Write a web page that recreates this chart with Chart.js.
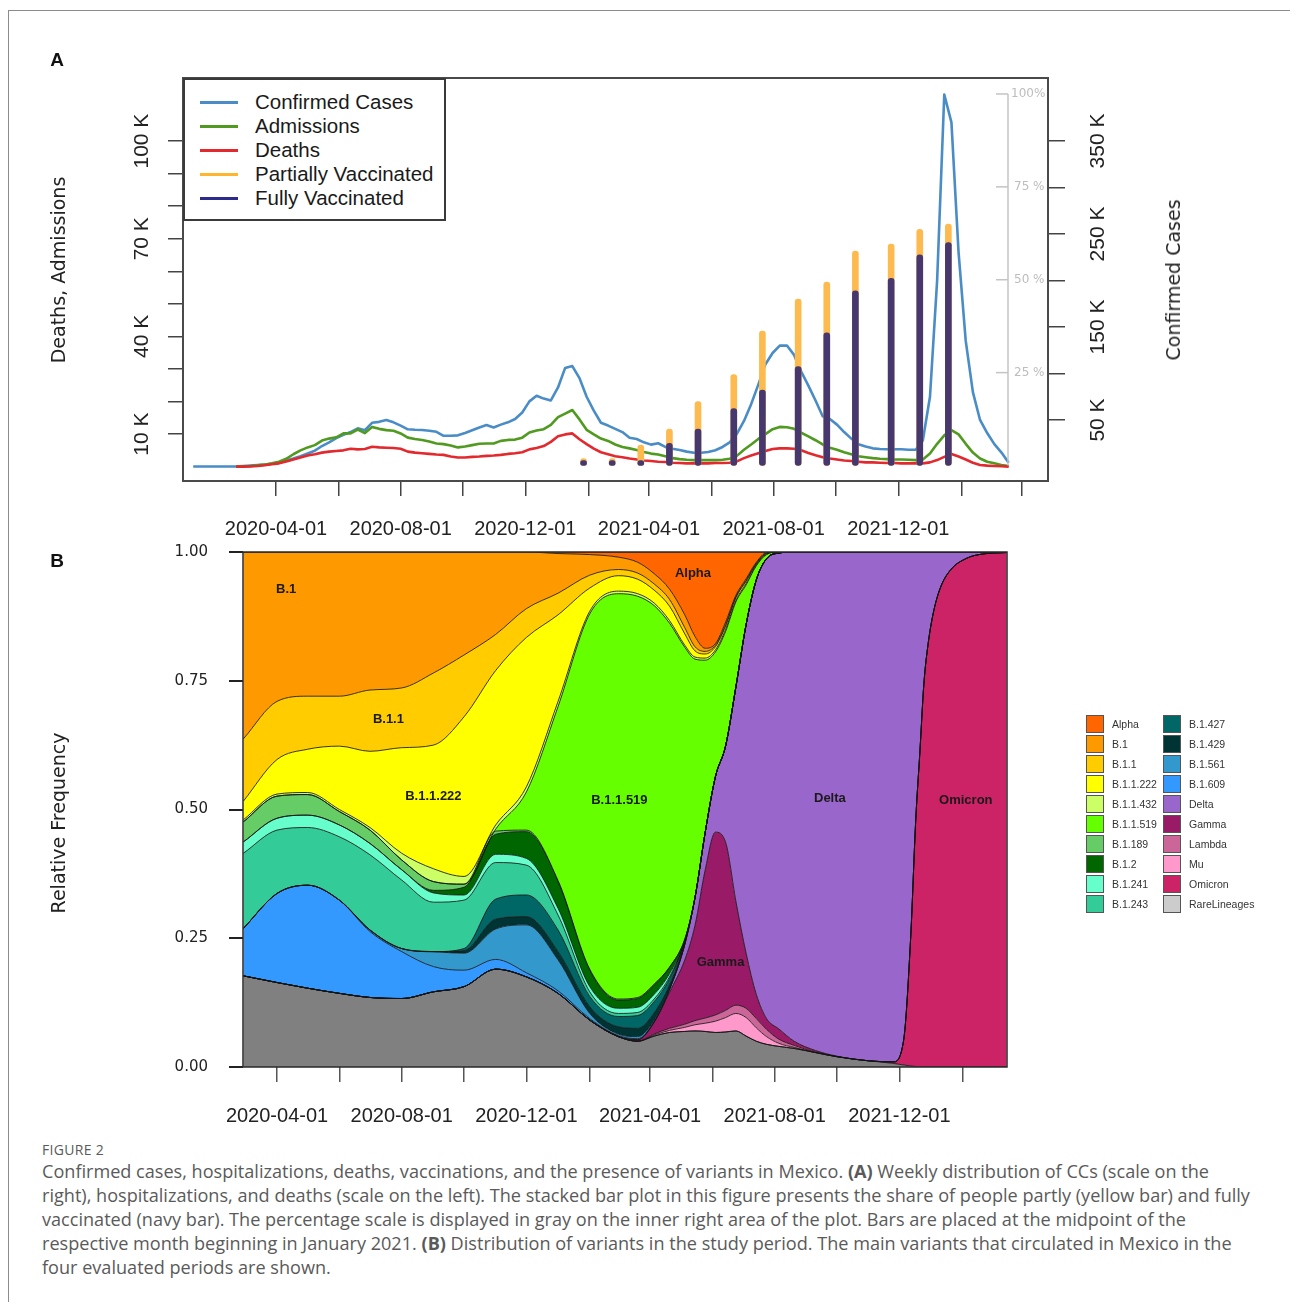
<!DOCTYPE html>
<html>
<head>
<meta charset="utf-8">
<title>Figure 2</title>
<script src="https://cdn.jsdelivr.net/npm/chart.js@4.4.1/dist/chart.umd.min.js"></script>
<style>
  html, body { margin: 0; padding: 0; background: #fff; }
  body { position: relative; width: 1290px; height: 1302px; overflow: hidden; font-family: "Liberation Sans", Arial, sans-serif; }
  .frame { position: absolute; left: 8px; top: 10px; width: 1300px; height: 1310px; border-left: 1px solid #8c8c8c; border-top: 1px solid #8c8c8c; }
  canvas { position: absolute; left: 0; }
  #chartA { top: 40px; }
  #chartB { top: 540px; }
  .tag { position: absolute; font: bold 19px "Liberation Sans", Arial, sans-serif; color: #111; transform: translate(-50%, -50%); }
  .vtitle { position: absolute; font: 19px "DejaVu Sans", sans-serif; color: #222; white-space: nowrap; transform: translate(-50%, -50%) rotate(-90deg); }
  #legendA { position: absolute; left: 183px; top: 78px; width: 259px; height: 139px; border: 2px solid #3a3a3a; background: #fff; }
  #legendA .row { position: absolute; left: 0; height: 24px; width: 257px; }
  #legendA .sw { position: absolute; left: 15px; top: 11px; width: 38px; height: 3px; }
  #legendA .tx { position: absolute; left: 70px; top: 0; font: 20.5px/24px "Liberation Sans", Arial, sans-serif; color: #1a1a1a; white-space: nowrap; }
  #legendB { position: absolute; left: 1086px; top: 715px; }
  #legendB .item { position: absolute; height: 18px; }
  #legendB .sw { position: absolute; left: 0; top: 0; width: 18px; height: 18px; box-sizing: border-box; border: 1px solid #555; }
  #legendB .tx { position: absolute; left: 26px; top: 0; font: 10.5px/18px "Liberation Sans", Arial, sans-serif; color: #333; white-space: nowrap; }
  #caption { position: absolute; left: 42px; top: 1141px; color: #5a5a5a; }
  #caption .fig { font: 14px/18px "Open Sans", sans-serif; letter-spacing: 0.3px; }
  #caption .cap { font: 18.1px/24px "Open Sans", sans-serif; white-space: nowrap; }
</style>
</head>
<body>
<div class="frame"></div>
<canvas id="chartA" width="1290" height="520"></canvas>
<canvas id="chartB" width="1290" height="600"></canvas>
<div class="tag" style="left:57px; top:60px;">A</div>
<div class="tag" style="left:57px; top:561px;">B</div>
<div class="vtitle" style="left:58px; top:270px;">Deaths, Admissions</div>
<div class="vtitle" style="left:1173px; top:280px;">Confirmed Cases</div>
<div class="vtitle" style="left:58px; top:823px;">Relative Frequency</div>
<div id="legendA"></div>
<div id="legendB"></div>
<div id="caption">
  <div class="fig">FIGURE 2</div>
  <div class="cap">Confirmed cases, hospitalizations, deaths, vaccinations, and the presence of variants in Mexico. <b>(A)</b> Weekly distribution of CCs (scale on the<br>right), hospitalizations, and deaths (scale on the left). The stacked bar plot in this figure presents the share of people partly (yellow bar) and fully<br>vaccinated (navy bar). The percentage scale is displayed in gray on the inner right area of the plot. Bars are placed at the midpoint of the<br>respective month beginning in January 2021. <b>(B)</b> Distribution of variants in the study period. The main variants that circulated in Mexico in the<br>four evaluated periods are shown.</div>
</div>

<script>
const day = s => (Date.parse(s) - Date.parse('2020-01-01')) / 864e5;

// ---------- panel A : weekly counts (thousands) ----------
const firstWeek = '2020-01-11';

const casesK = [0,0,0,0,0,0,0,
  0.5,1,1.5,2,3,4.5,6.5,8.5,
  11,14,17,22,26, 30.5,34,37,41,39, 47,48,50,47.5,44,
  40,39.5,39.2,38.5,37.3, 33,33,33.5,36,39, 42,44.5,42,45,47.5,
  51,58,70,76,73, 71,85,106,108,95, 75,60,47,44,40.5,
  37,31,29.5,26,23.5, 25,21,19,17.7,16, 14.8,14.8,15.5,17.5,21,
  26,35,49,67,88, 110,122,130,130,120, 102,87,71,54,51,
  45,37,30,24,21.5, 19.5,18.8,18.5,18.5,18.5, 18,18,28,75,200,
  400,370,230,135,80, 50,36,24,15,4];

const admissionsK = [null,null,null,null,null,null,0,
  0.1,0.2,0.4,0.6,1.0,1.5,2.4,3.8,
  5.0,5.9,6.6,8.0,8.6, 9.0,10.2,10.2,11.4,10.3, 12.2,11.6,11.2,11.0,10.2,
  8.9,8.5,8.2,7.7,7.1, 6.9,6.5,5.9,6.2,6.6, 7.0,7.1,7.1,7.9,8.2,
  8.3,8.9,10.5,11.1,11.5, 12.8,15.2,16.3,17.4,14.5, 11.3,9.9,8.6,7.9,6.8,
  6.0,5.6,5.1,4.5,4.0, 3.7,3.2,2.6,2.3,2.1, 2.0,2.0,2.0,2.0,2.1,
  2.4,3.3,5.2,6.8,8.5, 10.0,11.5,12.2,12.1,11.6, 10.4,9.3,8.1,6.8,5.8,
  5.2,4.4,3.8,3.2,2.9, 2.6,2.4,2.3,2.2,2.2, 2.1,2.0,2.2,4.0,7.0,
  9.6,11.2,9.9,7.0,4.3, 2.5,1.5,1.0,0.5,0.2];

const deathsK = [null,null,null,null,null,null,0,
  0,0.05,0.2,0.4,0.7,1.0,1.6,2.2,
  2.8,3.4,3.8,4.3,4.6, 4.8,5.0,5.5,5.3,5.4, 6.1,5.9,5.8,5.7,5.5,
  4.6,4.3,4.1,3.9,3.7, 3.6,3.1,2.8,2.8,3.0, 3.1,3.3,3.4,3.6,3.9,
  4.1,4.4,5.3,5.7,6.3, 7.6,9.3,9.9,10.2,8.4, 6.9,5.5,4.4,3.8,3.2,
  2.9,2.5,2.2,1.9,1.7, 1.5,1.4,1.2,1.1,1.0, 1.0,1.0,1.0,1.1,1.1,
  1.2,1.6,2.6,3.4,4.1, 4.8,5.4,5.6,5.6,5.5, 5.0,4.2,3.5,2.9,2.5,
  2.2,1.9,1.7,1.5,1.3, 1.3,1.2,1.1,1.1,1.0, 1.0,1.0,1.0,1.3,2.0,
  3.0,3.9,3.1,2.2,1.2, 0.5,0.3,0.2,0.1,0];

const vaxDates = ['2021-01-27','2021-02-24','2021-03-24','2021-04-21','2021-05-19','2021-06-23','2021-07-21',
  '2021-08-25','2021-09-22','2021-10-20','2021-11-24','2021-12-22','2022-01-19'];
const partialPct = [1.0, 1.8, 5.5, 9.8, 17.2, 24.5, 36.2, 44.8, 49.4, 57.7, 59.6, 63.6, 65.0];
const fullPct    = [0.6, 0.7, 1.0, 6.0, 9.8, 15.3, 20.3, 26.6, 35.7, 47.0, 50.4, 56.7, 60.0];

const seriesNames = ['Confirmed Cases', 'Admissions', 'Deaths', 'Partially Vaccinated', 'Fully Vaccinated'];
const lineColors = ['#4a8cc6', '#4f9a1f', '#e1292e'];
const legendColorsA = ['#4a8cc6', '#4f9a1f', '#e1292e', '#ffb52e', '#2c2a8c'];
const barColors = ['#fdbb4f', '#47376f'];

const leftTicksK = [10,20,30,40,50,60,70,80,90,100];
const leftLabelsK = [10,40,70,100];
const rightTicksK = [50,100,150,200,250,300,350];
const rightLabelsK = [50,150,250,350];
const pctTicks = [25, 50, 75, 100];
const pctLabels = ['25 %', '50 %', '75 %', '100%'];

const xTickDates = ['2020-04-01','2020-06-01','2020-08-01','2020-10-01','2020-12-01','2021-02-01','2021-04-01',
  '2021-06-01','2021-08-01','2021-10-01','2021-12-01','2022-02-01','2022-04-01'];
const xLabelDates = ['2020-04-01','2020-08-01','2020-12-01','2021-04-01','2021-08-01','2021-12-01'];

// ---------- panel B : relative frequency of variants ----------
const variantDates = ['2020-02-28','2020-04-01','2020-05-01','2020-06-01','2020-07-01','2020-08-01','2020-09-01',
  '2020-10-01','2020-11-01','2020-12-01','2021-01-01','2021-02-01','2021-03-01','2021-03-20','2021-04-05',
  '2021-04-20','2021-05-05','2021-05-15','2021-05-25','2021-06-04','2021-06-14','2021-06-24','2021-07-04',
  '2021-07-14','2021-07-24','2021-08-05','2021-08-20','2021-09-10','2021-10-01','2021-11-01','2021-11-25',
  '2021-12-05','2021-12-12','2021-12-17','2021-12-21','2021-12-25','2021-12-29','2022-01-03','2022-01-10',
  '2022-01-20','2022-02-05','2022-02-20','2022-03-16'];

const rareLineages = [.177,.164,.153,.143,.135,.133,.146,.156,.19,.175,.143,.091,.059,.05,.06,.067,.069,.07,.069,.067,
  .068,.07,.06,.05,.044,.04,.036,.028,.02,.012,.007,.004,.002,.001,0,0,0,0,0,0,0,0,0];
const omicron = [0,0,0,0,0,0,0,0,0,0,0,0,0,0,0,0,0,0,0,0,0,0,0,0,0,0,0,0,0,0,
  .003,.046,.248,.479,.61,.745,.82,.88,.93,.965,.988,.996,.999];
const mu = [0,0,0,0,0,0,0,0,0,0,0,0,0,0,.002,.004,.008,.012,.016,.022,.028,.034,.036,.026,.015,.006,.002,
  0,0,0,0,0,0,0,0,0,0,0,0,0,0,0,0];
const lambda = [0,0,0,0,0,0,0,0,0,0,0,0,0,0,.002,.004,.006,.008,.01,.012,.014,.016,.018,.018,.014,.008,.004,.001,
  0,0,0,0,0,0,0,0,0,0,0,0,0,0,0];
const gamma = [0,0,0,0,0,0,0,0,0,0,0,0,0,.003,.023,.07,.125,.185,.288,.355,.326,.202,.107,.047,.021,.02,.008,.003,.001,
  0,0,0,0,0,0,0,0,0,0,0,0,0,0];
const delta = [0,0,0,0,0,0,0,0,0,0,0,0,0,0,0,.005,.03,.054,.073,.108,.188,.416,.638,.805,.893,.924,.95,.968,.979,.988,
  .99,.95,.75,.52,.39,.255,.18,.12,.07,.035,.012,.004,.001];
const b1609 = [.092,.173,.2,.181,.128,.091,.049,.032,.019,.008,.005,.003,.002,.002,.001,
  0,0,0,0,0,0,0,0,0,0,0,0,0,0,0,0,0,0,0,0,0,0,0,0,0,0,0,0];
const b1561 = [0,0,0,0,.003,.006,.029,.033,.059,.093,.06,.01,.003,.004,.003,.001,
  0,0,0,0,0,0,0,0,0,0,0,0,0,0,0,0,0,0,0,0,0,0,0,0,0,0,0];
const b1429 = [0,0,0,0,0,0,0,.005,.019,.016,.016,.013,.014,.016,.014,.008,.003,
  0,0,0,0,0,0,0,0,0,0,0,0,0,0,0,0,0,0,0,0,0,0,0,0,0,0];
const b1427 = [0,0,0,0,0,0,0,.004,.039,.042,.042,.02,.02,.025,.022,.012,.004,
  0,0,0,0,0,0,0,0,0,0,0,0,0,0,0,0,0,0,0,0,0,0,0,0,0,0];
const b1243 = [.146,.123,.112,.123,.146,.133,.096,.094,.071,.058,.029,.009,.006,.006,.005,.004,
  0,0,0,0,0,0,0,0,0,0,0,0,0,0,0,0,0,0,0,0,0,0,0,0,0,0,0];
const b1241 = [.022,.023,.024,.023,.022,.02,.018,.01,.016,.013,.013,.01,.01,.01,.009,.006,
  0,0,0,0,0,0,0,0,0,0,0,0,0,0,0,0,0,0,0,0,0,0,0,0,0,0,0];
const b12 = [0,0,0,0,0,0,.005,.015,.039,.052,.052,.032,.016,.017,.018,.012,.003,
  0,0,0,0,0,0,0,0,0,0,0,0,0,0,0,0,0,0,0,0,0,0,0,0,0,0];
const b1189 = [.039,.043,.04,.026,.026,.019,.017,.006,.006,.003,.002,.002,.002,.002,.002,.001,
  0,0,0,0,0,0,0,0,0,0,0,0,0,0,0,0,0,0,0,0,0,0,0,0,0,0,0];
const b11519 = [0,0,0,0,0,0,0,0,.004,.074,.338,.69,.787,.779,.735,.668,.567,.463,.334,.242,.222,.165,.077,.027,.008,.002,
  0,0,0,0,0,0,0,0,0,0,0,0,0,0,0,0,0];
const b11432 = [.004,.004,.004,.004,.005,.013,.025,.015,.008,.01,.01,.005,.005,.005,.005,.005,.004,.004,.004,.004,.004,
  .003,.003,.002,.001,0,0,0,0,0,0,0,0,0,0,0,0,0,0,0,0,0,0];
const b11222 = [.036,.067,.084,.123,.148,.205,.24,.31,.3,.29,.168,.045,.03,.028,.025,.028,.022,.012,.008,.006,.006,
  .005,.004,.002,.001,0,0,0,0,0,0,0,0,0,0,0,0,0,0,0,0,0,0];
const b11 = [.121,.113,.103,.097,.119,.116,.14,.12,.07,.056,.042,.025,.012,.012,.012,.013,.012,.008,.005,.003,.003,
  .002,.002,.001,.001,0,0,0,0,0,0,0,0,0,0,0,0,0,0,0,0,0,0];
const b1 = [.363,.29,.28,.28,.268,.264,.235,.2,.16,.11,.077,.04,.024,.021,.02,.02,.025,.02,.006,.003,.005,
  .003,.003,.002,.001,0,0,0,0,0,0,0,0,0,0,0,0,0,0,0,0,0,0];
const alpha = [0,0,0,0,0,0,0,0,0,0,.003,.005,.01,.02,.042,.072,.122,.164,.187,.178,.136,.084,.052,.02,.001,
  0,0,0,0,0,0,0,0,0,0,0,0,0,0,0,0,0,0];

// stacking order, bottom to top
const variantNames = ['RareLineages','Omicron','Mu','Lambda','Gamma','Delta','B.1.609','B.1.561','B.1.429','B.1.427',
  'B.1.243','B.1.241','B.1.2','B.1.189','B.1.1.519','B.1.1.432','B.1.1.222','B.1.1','B.1','Alpha'];
const variantShares = [rareLineages, omicron, mu, lambda, gamma, delta, b1609, b1561, b1429, b1427,
  b1243, b1241, b12, b1189, b11519, b11432, b11222, b11, b1, alpha];
const variantColors = ['#808080','#cc2266','#ff99cc','#cc6699','#991a66','#9966cc','#3399ff','#3399cc','#003333','#006666',
  '#33cc99','#66ffcc','#006600','#66cc66','#66ff00','#ccff66','#ffff00','#ffcc00','#ff9900','#ff6600'];
const legendOrderB = ['Alpha','B.1','B.1.1','B.1.1.222','B.1.1.432','B.1.1.519','B.1.189','B.1.2','B.1.241','B.1.243',
  'B.1.427','B.1.429','B.1.561','B.1.609','Delta','Gamma','Lambda','Mu','Omicron','RareLineages'];
const legendSwatchOverride = { RareLineages: '#cccccc' };

const variantLabels = [
  ['B.1', '2020-04-10', 0.928], ['B.1.1', '2020-07-19', 0.674], ['B.1.1.222', '2020-09-01', 0.526],
  ['B.1.1.519', '2021-03-02', 0.518], ['Alpha', '2021-05-13', 0.959], ['Gamma', '2021-06-09', 0.204],
  ['Delta', '2021-09-24', 0.522], ['Omicron', '2022-02-04', 0.518]
];

// ---------- helpers ----------
const weekDays = casesK.map((_, i) => day(firstWeek) + 7 * i);
const weekly = arr => arr.map((v, i) => ({ x: weekDays[i], y: v }));
const dateLabel = v => xLabelDates.find(d => day(d) === v) || '';
const tickFont = { family: 'Liberation Sans', size: 20 };
const fixWidth = w => s => { s.width = w; s.paddingTop = 0; s.paddingBottom = 0; };
const fixHeight = h => s => { s.height = h; s.paddingLeft = 0; s.paddingRight = 0; };

// ---------- legends (html) ----------
const legA = document.getElementById('legendA');
seriesNames.forEach((name, i) => {
  const row = document.createElement('div');
  row.className = 'row';
  row.style.top = (10 + 24 * i) + 'px';
  row.innerHTML = '<span class="sw" style="background:' + legendColorsA[i] + '"></span><span class="tx">' + name + '</span>';
  legA.appendChild(row);
});

const legB = document.getElementById('legendB');
legendOrderB.forEach((name, i) => {
  const item = document.createElement('div');
  item.className = 'item';
  item.style.left = (i < 10 ? 0 : 77) + 'px';
  item.style.top = (20 * (i % 10)) + 'px';
  const col = legendSwatchOverride[name] || variantColors[variantNames.indexOf(name)];
  item.innerHTML = '<span class="sw" style="background:' + col + '"></span><span class="tx">' + name + '</span>';
  legB.appendChild(item);
});

// ---------- plugins ----------
const frameBox = {
  id: 'frameBox',
  afterDraw(chart, args, opts) {
    const a = chart.chartArea, ctx = chart.ctx;
    ctx.save();
    ctx.strokeStyle = opts.color;
    ctx.lineWidth = opts.width;
    ctx.strokeRect(a.left, a.top, a.right - a.left, a.bottom - a.top);
    ctx.restore();
  }
};

const pctScale = {
  id: 'pctScale',
  afterDatasetsDraw(chart) {
    const s = chart.scales.yPct, ctx = chart.ctx;
    const x = chart.chartArea.right - 40;
    ctx.save();
    ctx.strokeStyle = '#c4c4c4';
    ctx.fillStyle = '#bdbdbd';
    ctx.lineWidth = 1.5;
    ctx.beginPath();
    ctx.moveTo(x, s.getPixelForValue(0));
    ctx.lineTo(x, s.getPixelForValue(100));
    ctx.stroke();
    ctx.font = '12px "DejaVu Sans"';
    ctx.textBaseline = 'middle';
    pctTicks.forEach((v, i) => {
      const y = s.getPixelForValue(v);
      ctx.beginPath();
      ctx.moveTo(x - 12, y);
      ctx.lineTo(x, y);
      ctx.stroke();
      ctx.fillText(pctLabels[i], x + (v === 100 ? 3 : 6), y);
    });
    ctx.restore();
  }
};

const areaLabels = {
  id: 'areaLabels',
  afterDatasetsDraw(chart) {
    const ctx = chart.ctx;
    ctx.save();
    ctx.font = 'bold 13px "Liberation Sans"';
    ctx.fillStyle = '#1a1a1a';
    ctx.textAlign = 'center';
    ctx.textBaseline = 'middle';
    variantLabels.forEach(([t, d, v]) => {
      ctx.fillText(t, chart.scales.x.getPixelForValue(day(d)), chart.scales.y.getPixelForValue(v));
    });
    ctx.restore();
  }
};

// ---------- chart A ----------
new Chart(document.getElementById('chartA'), {
  type: 'line',
  data: {
    datasets: [
      { type: 'bar', label: seriesNames[4], data: vaxDates.map((d, i) => ({ x: day(d), y: fullPct[i] })),
        yAxisID: 'yPct', backgroundColor: barColors[1], barThickness: 6, grouped: false,
        borderRadius: 3, borderSkipped: false, minBarLength: 5, order: 0 },
      { type: 'bar', label: seriesNames[3], data: vaxDates.map((d, i) => ({ x: day(d), y: partialPct[i] })),
        yAxisID: 'yPct', backgroundColor: barColors[0], barThickness: 6, grouped: false,
        borderRadius: 3, borderSkipped: false, minBarLength: 7, order: 1 },
      { label: seriesNames[2], data: weekly(deathsK), yAxisID: 'yL', borderColor: lineColors[2],
        borderWidth: 2.6, pointRadius: 0, tension: 0, borderJoinStyle: 'round', order: 2 },
      { label: seriesNames[1], data: weekly(admissionsK), yAxisID: 'yL', borderColor: lineColors[1],
        borderWidth: 2.6, pointRadius: 0, tension: 0, borderJoinStyle: 'round', order: 3 },
      { label: seriesNames[0], data: weekly(casesK), yAxisID: 'yR', borderColor: lineColors[0],
        borderWidth: 2.6, pointRadius: 0, tension: 0, borderJoinStyle: 'round', order: 4 }
    ]
  },
  options: {
    responsive: false,
    animation: false,
    layout: { padding: { top: 38, left: 0, right: 0, bottom: 0 } },
    plugins: {
      legend: { display: false },
      tooltip: { enabled: false },
      frameBox: { color: '#4a4a4a', width: 2 }
    },
    scales: {
      x: {
        type: 'linear', min: 0, max: 846.5, offset: false,
        afterBuildTicks: s => { s.ticks = xTickDates.map(d => ({ value: day(d) })); },
        afterFit: fixHeight(79),
        grid: { offset: false, drawOnChartArea: false, tickLength: 15, color: '#444', lineWidth: 1.5 },
        border: { display: false },
        ticks: { autoSkip: false, maxRotation: 0, padding: 21, color: '#222', font: tickFont, callback: dateLabel }
      },
      yL: {
        position: 'left', min: -4.42, max: 119.37,
        afterBuildTicks: s => { s.ticks = leftTicksK.map(v => ({ value: v })); },
        afterFit: fixWidth(183),
        grid: { drawOnChartArea: false, tickLength: 15, color: '#444', lineWidth: 1.5 },
        border: { display: false },
        ticks: { autoSkip: false, minRotation: 90, maxRotation: 90, crossAlign: 'center', padding: -2,
          color: '#222', font: { family: 'Liberation Sans', size: 21 },
          callback: v => leftLabelsK.includes(v) ? v + ' K' : '' }
      },
      yR: {
        position: 'right', min: -15.6, max: 417.7,
        afterBuildTicks: s => { s.ticks = rightTicksK.map(v => ({ value: v })); },
        afterFit: fixWidth(242),
        grid: { drawOnChartArea: false, tickLength: 17, color: '#444', lineWidth: 1.5 },
        border: { display: false },
        ticks: { autoSkip: false, minRotation: 90, maxRotation: 90, crossAlign: 'center', padding: 6,
          color: '#222', font: { family: 'Liberation Sans', size: 21 },
          callback: v => rightLabelsK.includes(v) ? v + ' K' : '' }
      },
      yPct: { display: false, min: -4.17, max: 104.3 }
    }
  },
  plugins: [frameBox, pctScale]
});

// ---------- chart B ----------
new Chart(document.getElementById('chartB'), {
  type: 'line',
  data: {
    datasets: variantShares.map((arr, k) => ({
      label: variantNames[k],
      data: arr.map((v, j) => ({ x: day(variantDates[j]), y: v })),
      backgroundColor: variantColors[k],
      borderColor: 'rgba(20,20,20,0.85)',
      borderWidth: 1,
      pointRadius: 0,
      fill: k === 0 ? 'origin' : '-1',
      cubicInterpolationMode: 'monotone'
    }))
  },
  options: {
    responsive: false,
    animation: false,
    layout: { padding: { top: 12, left: 0, right: 283, bottom: 0 } },
    plugins: {
      legend: { display: false },
      tooltip: { enabled: false },
      filler: { drawTime: 'beforeDatasetsDraw' },
      frameBox: { color: '#2a2a2a', width: 1.5 }
    },
    scales: {
      x: {
        type: 'linear', min: 57.7, max: 805.3, offset: false,
        afterBuildTicks: s => { s.ticks = xTickDates.slice(0, 12).map(d => ({ value: day(d) })); },
        afterFit: fixHeight(73),
        grid: { offset: false, drawOnChartArea: false, tickLength: 15, color: '#555', lineWidth: 1.5 },
        border: { display: false },
        ticks: { autoSkip: false, maxRotation: 0, padding: 22, color: '#222', font: tickFont, callback: dateLabel }
      },
      y: {
        stacked: true, min: 0, max: 1,
        afterBuildTicks: s => { s.ticks = [0, 0.25, 0.5, 0.75, 1].map(v => ({ value: v })); },
        afterFit: fixWidth(243),
        grid: { drawOnChartArea: false, tickLength: 14, color: '#222', lineWidth: 2 },
        border: { display: false },
        ticks: { autoSkip: false, padding: 21, color: '#222', font: { family: 'DejaVu Sans', size: 15 },
          callback: v => v.toFixed(2) }
      }
    }
  },
  plugins: [frameBox, areaLabels]
});
</script>
</body>
</html>
